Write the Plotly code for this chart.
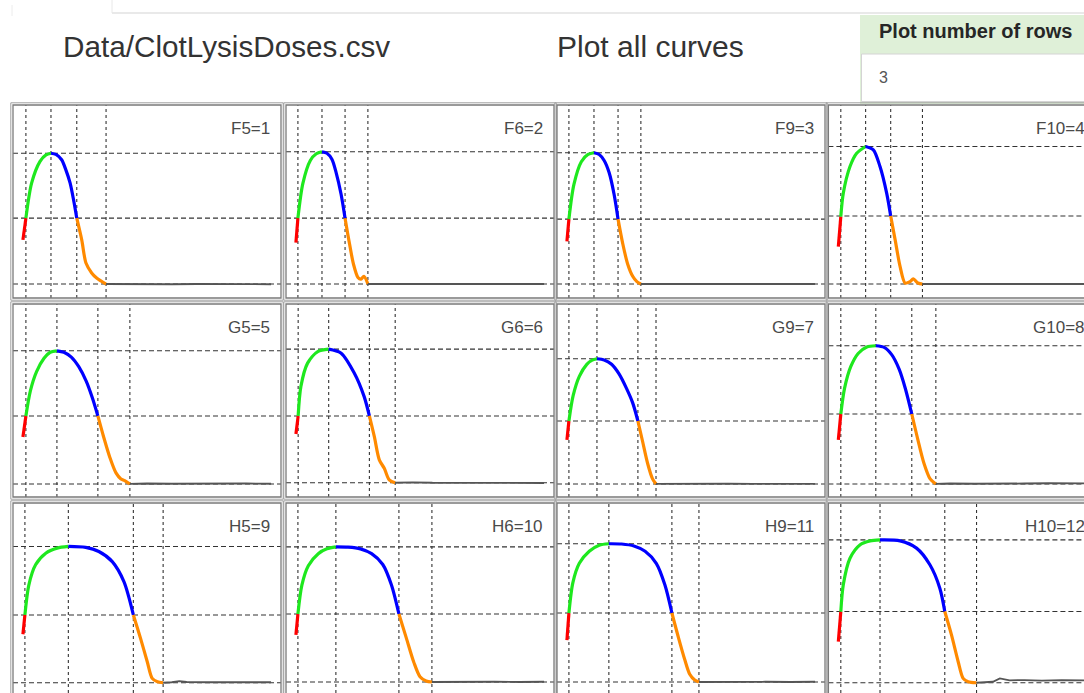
import plotly.graph_objects as go

# ---------------- data (time, absorbance) ----------------
labels = ["F5=1", "F6=2", "F9=3", "F10=4",
          "G5=5", "G6=6", "G9=7", "G10=8",
          "H5=9", "H6=10", "H9=11", "H10=12"]

t_F5 = [0, 1.2, 3.5, 6.9, 9.3, 11.3, 13.3, 15.6, 17.3, 19.0, 20.4, 21.7, 23.7, 25.4, 27.7, 29.7, 33.5, 40, 50, 60, 70, 80, 90, 100]
a_F5 = [0.241, 0.331, 0.476, 0.566, 0.593, 0.600, 0.595, 0.573, 0.531, 0.477, 0.407, 0.331, 0.241, 0.145, 0.104, 0.083, 0.058, 0.057, 0.058, 0.057, 0.058, 0.057, 0.058, 0.057]
k_F5 = [1, 5, 11, 16]

t_F6 = [0, 0.8, 2.8, 5.8, 8.2, 10.5, 12.5, 14.5, 16.2, 18.2, 19.8, 21.5, 23.2, 25.0, 26.2, 27.4, 29.0, 35, 45, 55, 65, 75, 85, 100]
a_F6 = [0.230, 0.331, 0.475, 0.570, 0.598, 0.606, 0.600, 0.575, 0.520, 0.430, 0.331, 0.230, 0.140, 0.085, 0.078, 0.090, 0.058, 0.058, 0.057, 0.058, 0.057, 0.058, 0.057, 0.058]
k_F6 = [1, 5, 10, 16]

t_F9 = [0, 0.8, 2.8, 5.8, 8.5, 10.9, 13.0, 15.0, 17.0, 19.0, 20.6, 22.5, 24.5, 26.5, 28.2, 29.8, 35, 45, 55, 65, 75, 85, 100]
a_F9 = [0.235, 0.327, 0.470, 0.565, 0.595, 0.602, 0.595, 0.570, 0.520, 0.430, 0.327, 0.225, 0.140, 0.090, 0.068, 0.058, 0.058, 0.057, 0.058, 0.057, 0.058, 0.057, 0.058]
k_F9 = [1, 5, 10, 15]

t_F10 = [0, 1.0, 2.0, 4.7, 7.4, 11.0, 14.1, 16.8, 19.5, 21.1, 22.9, 24.9, 26.9, 28.9, 30.2, 32.1, 33.9, 40, 50, 60, 70, 80, 90, 100]
a_F10 = [0.213, 0.337, 0.434, 0.545, 0.600, 0.628, 0.614, 0.545, 0.434, 0.340, 0.241, 0.130, 0.062, 0.068, 0.079, 0.062, 0.058, 0.058, 0.057, 0.058, 0.057, 0.058, 0.057, 0.058]
k_F10 = [1, 5, 9, 16]

t_G5 = [0, 1.2, 3.0, 5.5, 8.5, 11.0, 13.7, 16.5, 19.5, 22.5, 25.5, 28.0, 30.2, 32.5, 35.0, 37.5, 39.5, 41.0, 43.1, 50, 60, 70, 80, 90, 100]
a_G5 = [0.249, 0.336, 0.440, 0.520, 0.575, 0.600, 0.606, 0.600, 0.580, 0.540, 0.480, 0.410, 0.336, 0.250, 0.165, 0.100, 0.075, 0.068, 0.054, 0.056, 0.055, 0.056, 0.055, 0.056, 0.055]
k_G5 = [1, 6, 12, 18]

t_G6 = [0, 0.9, 2.0, 4.7, 8.8, 13.2, 18.1, 23.5, 27.5, 29.6, 31.6, 33.6, 35.6, 37.6, 40.0, 47, 55, 65, 75, 85, 100]
a_G6 = [0.261, 0.336, 0.458, 0.555, 0.603, 0.613, 0.597, 0.514, 0.416, 0.336, 0.250, 0.154, 0.119, 0.071, 0.059, 0.061, 0.059, 0.059, 0.058, 0.059, 0.058]
k_G6 = [1, 5, 9, 14]

t_G9 = [0, 0.8, 2.5, 5.0, 8.0, 10.0, 12.1, 15.0, 18.0, 21.0, 24.0, 26.5, 28.6, 30.5, 32.5, 34.5, 35.9, 45, 55, 65, 75, 85, 100]
a_G9 = [0.237, 0.315, 0.420, 0.500, 0.550, 0.566, 0.573, 0.568, 0.550, 0.510, 0.450, 0.390, 0.315, 0.230, 0.140, 0.075, 0.054, 0.055, 0.054, 0.055, 0.054, 0.055, 0.054]
k_G9 = [1, 6, 12, 16]

t_G10 = [0, 1.0, 2.5, 5.0, 8.0, 11.5, 15.1, 18.5, 21.5, 24.5, 27.0, 29.6, 32.0, 34.5, 37.0, 39.3, 45, 55, 65, 75, 85, 100]
a_G10 = [0.237, 0.344, 0.450, 0.540, 0.595, 0.622, 0.627, 0.620, 0.590, 0.530, 0.450, 0.344, 0.240, 0.140, 0.075, 0.054, 0.056, 0.055, 0.057, 0.056, 0.057, 0.056]
k_G10 = [1, 6, 11, 15]

t_H5 = [0, 0.8, 2.4, 5.1, 9.2, 13.8, 18.3, 25.3, 30.6, 36.0, 40.7, 44.5, 47.4, 50.1, 52.1, 54.2, 56.5, 60, 63, 66, 75, 85, 100]
a_H5 = [0.256, 0.336, 0.461, 0.544, 0.592, 0.613, 0.620, 0.616, 0.599, 0.557, 0.474, 0.336, 0.239, 0.142, 0.073, 0.059, 0.055, 0.057, 0.062, 0.058, 0.057, 0.057, 0.057]
k_H5 = [1, 6, 11, 16]

t_H6 = [0, 0.8, 2.4, 5.0, 9.0, 12.5, 16.1, 21.0, 26.0, 30.5, 35.0, 38.5, 41.5, 44.5, 47.5, 50.0, 52.5, 54.8, 62, 70, 80, 90, 100]
a_H6 = [0.253, 0.340, 0.460, 0.540, 0.590, 0.610, 0.618, 0.617, 0.610, 0.590, 0.545, 0.460, 0.340, 0.240, 0.140, 0.080, 0.062, 0.058, 0.059, 0.058, 0.059, 0.058, 0.059]
k_H6 = [1, 6, 12, 17]

t_H9 = [0, 0.8, 2.4, 5.0, 9.0, 13.0, 16.9, 22.0, 27.0, 31.5, 36.0, 39.5, 42.3, 45.0, 47.5, 49.5, 51.5, 53.2, 60, 70, 80, 90, 100]
a_H9 = [0.232, 0.344, 0.470, 0.550, 0.600, 0.625, 0.631, 0.630, 0.622, 0.600, 0.550, 0.460, 0.344, 0.240, 0.150, 0.090, 0.066, 0.058, 0.059, 0.058, 0.059, 0.058, 0.059]
k_H9 = [1, 6, 12, 17]

t_H10 = [0, 1.0, 2.0, 4.7, 8.8, 12.8, 16.8, 24.9, 31.5, 36.9, 40.9, 42.9, 45.6, 48.3, 50.3, 52.3, 55.7, 59, 62.3, 65.1, 69, 75, 82, 90, 99]
a_H10 = [0.225, 0.350, 0.461, 0.571, 0.627, 0.643, 0.647, 0.643, 0.613, 0.544, 0.447, 0.350, 0.253, 0.142, 0.073, 0.059, 0.055, 0.058, 0.059, 0.073, 0.065, 0.066, 0.064, 0.066, 0.065]
k_H10 = [1, 6, 11, 16]

times = [t_F5, t_F6, t_F9, t_F10, t_G5, t_G6, t_G9, t_G10, t_H5, t_H6, t_H9, t_H10]
absorb = [a_F5, a_F6, a_F9, a_F10, a_G5, a_G6, a_G9, a_G10, a_H5, a_H6, a_H9, a_H10]
keys = [k_F5, k_F6, k_F9, k_F10, k_G5, k_G6, k_G9, k_G10, k_H5, k_H6, k_H9, k_H10]

# ---------------- layout geometry (page pixels) ----------------
PAGE_W, PAGE_H = 1084, 693
OFF = 0                       # body margin removed in post_script
W, H = PAGE_W - OFF, PAGE_H - OFF
COL_LEFT = [13.0, 286.0, 557.0, 828.4]
ROW_TOP = [105.0, 304.0, 503.0]
PW, PH = 268.0, 193.0
XR = (-4.0, 104.0)
YR = (0.0, 0.8)
SEG_COLORS = ["#ff0000", "#1ee81e", "#0000ff", "#ff8a00"]
TAIL_COLOR = "#555555"
DASH_COL = "#333333"

fig = go.Figure()
shapes = []
annotations = []


def px_x(p):
    return (p - OFF) / W


def px_y(p):
    return 1 - (p - OFF) / H


for i, lab in enumerate(labels):
    r, c = divmod(i, 4)
    n = i + 1
    xs = "" if n == 1 else str(n)
    x0p = COL_LEFT[c]
    x1p = min(x0p + PW, PAGE_W)
    y0p = ROW_TOP[r]
    y1p = min(y0p + PH, PAGE_H)
    xmax = XR[0] + (x1p - x0p) / PW * (XR[1] - XR[0])
    ymin = YR[1] - (y1p - y0p) / PH * (YR[1] - YR[0])
    fig.layout["xaxis" + xs] = dict(domain=[px_x(x0p), px_x(x1p)], range=[XR[0], xmax],
                                    visible=False, anchor="y" + xs, fixedrange=True)
    fig.layout["yaxis" + xs] = dict(domain=[px_y(y1p), px_y(y0p)], range=[ymin, YR[1]],
                                    visible=False, anchor="x" + xs, fixedrange=True)

    t = times[i]
    a = absorb[i]
    k = keys[i]
    bounds = [0] + k
    for s in range(4):
        lo, hi = bounds[s], bounds[s + 1]
        fig.add_trace(go.Scatter(x=t[lo:hi + 1], y=a[lo:hi + 1], mode="lines",
                                 line=dict(color=SEG_COLORS[s], width=3.2, shape="spline", smoothing=0.8),
                                 xaxis="x" + xs, yaxis="y" + xs, hoverinfo="skip"))
    fig.add_trace(go.Scatter(x=t[k[3]:], y=a[k[3]:], mode="lines",
                             line=dict(color=TAIL_COLOR, width=1.8),
                             xaxis="x" + xs, yaxis="y" + xs, hoverinfo="skip"))

    # dashed reference lines from key points
    for kk in k:
        shapes.append(dict(type="line", xref="x" + xs, yref="y" + xs + " domain",
                           x0=t[kk], x1=t[kk], y0=0, y1=1, layer="below",
                           line=dict(color=DASH_COL, width=1.1, dash="3px,3px")))
    for kk in (k[1], k[2], k[3]):
        shapes.append(dict(type="line", xref="x" + xs + " domain", yref="y" + xs,
                           x0=0, x1=1, y0=a[kk], y1=a[kk], layer="below",
                           line=dict(color=DASH_COL, width=1.1, dash="5px,3px")))

    # double frame
    for off, col, wd in ((0, "#7a7a7a", 1.3), (2.2, "#a0a0a0", 1.0)):
        shapes.append(dict(type="rect", xref="paper", yref="paper",
                           x0=px_x(x0p - off), x1=px_x(x0p + PW + off),
                           y0=px_y(y0p + PH + off), y1=px_y(y0p - off),
                           line=dict(color=col, width=wd), fillcolor="rgba(0,0,0,0)"))

    annotations.append(dict(text=lab, xref="paper", yref="paper",
                            x=px_x(x0p + PW - 9), y=px_y(y0p + 23),
                            xanchor="right", yanchor="middle", showarrow=False,
                            font=dict(family="Liberation Sans", size=17, color="#4a4a4a")))

# ---------------- header (tab line, titles, input box) ----------------
shapes += [
    dict(type="line", xref="paper", yref="paper", x0=px_x(112), x1=px_x(PAGE_W + 5), y0=px_y(13), y1=px_y(13),
         line=dict(color="#e2e2e2", width=1.5)),
    dict(type="line", xref="paper", yref="paper", x0=px_x(112), x1=px_x(112), y0=px_y(13), y1=1,
         line=dict(color="#e8e8e8", width=1)),
    dict(type="line", xref="paper", yref="paper", x0=px_x(12), x1=px_x(12), y0=px_y(16), y1=px_y(5),
         line=dict(color="#ececec", width=1)),
    dict(type="rect", xref="paper", yref="paper", x0=px_x(860), x1=px_x(1095), y0=px_y(104), y1=px_y(15),
         line=dict(width=0), fillcolor="#dff0d8", layer="below"),
    dict(type="rect", xref="paper", yref="paper", x0=px_x(861.5), x1=px_x(1100), y0=px_y(101.5), y1=px_y(54),
         line=dict(color="#d4d4d4", width=1), fillcolor="#ffffff", layer="below"),
]

annotations += [
    dict(text="Data/ClotLysisDoses.csv", xref="paper", yref="paper", x=px_x(61), y=px_y(46),
         xanchor="left", yanchor="middle", showarrow=False,
         font=dict(family="Liberation Sans", size=29.7, color="#333333")),
    dict(text="Plot all curves", xref="paper", yref="paper", x=px_x(555), y=px_y(46),
         xanchor="left", yanchor="middle", showarrow=False,
         font=dict(family="Liberation Sans", size=30, color="#333333")),
    dict(text="<b>Plot number of rows</b>", xref="paper", yref="paper", x=px_x(877), y=px_y(31),
         xanchor="left", yanchor="middle", showarrow=False,
         font=dict(family="Liberation Sans", size=20, color="#262626")),
    dict(text="3", xref="paper", yref="paper", x=px_x(877), y=px_y(77),
         xanchor="left", yanchor="middle", showarrow=False,
         font=dict(family="Liberation Sans", size=16, color="#555555")),
]

fig.update_layout(width=W, height=H, margin=dict(l=0, r=0, t=0, b=0),
                  paper_bgcolor="#ffffff", plot_bgcolor="#ffffff",
                  showlegend=False, shapes=shapes, annotations=annotations)

fig.write_html("out.html", config={"displayModeBar": False},
               post_script="document.body.style.margin='0';document.body.style.overflow='hidden';")
